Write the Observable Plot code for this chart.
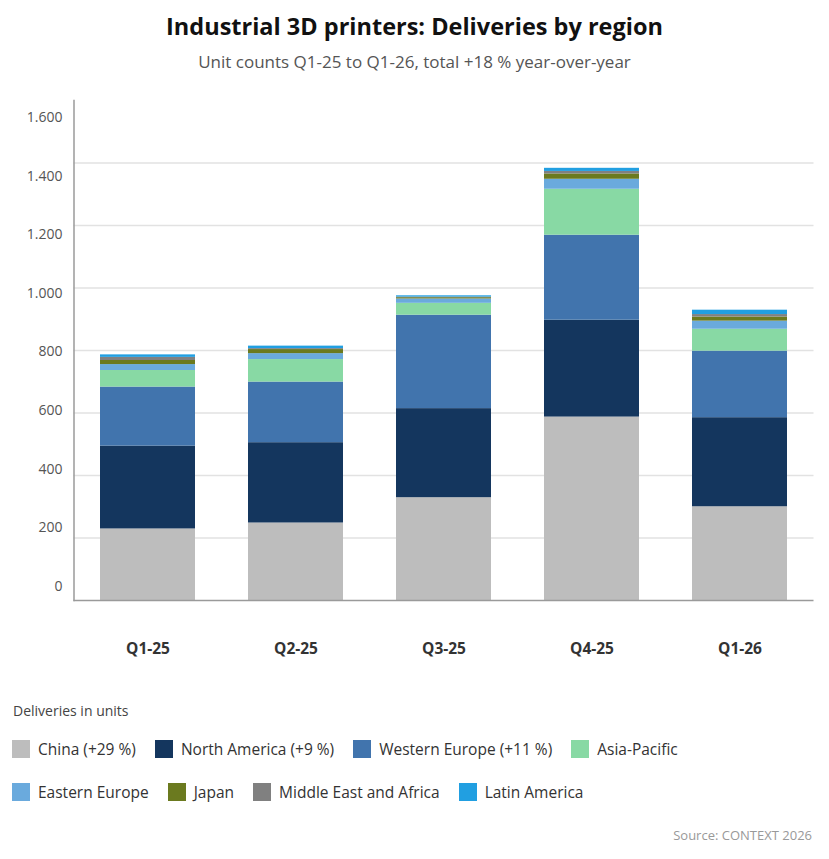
<!DOCTYPE html>
<html>
<head>
<meta charset="utf-8">
<script src="https://cdn.jsdelivr.net/npm/d3@7"></script>
<script src="https://cdn.jsdelivr.net/npm/@observablehq/plot@0.6"></script>
<style>
  body { margin: 0; background: #fff; font-family: "Open Sans", sans-serif; }
  #wrap { position: relative; width: 829px; height: 859px; overflow: hidden; }
  #title { position: absolute; top: 10px; left: 0; width: 829px; text-align: center; font-size: 23.5px; line-height: 32px; font-weight: 700; color: #111; }
  #subtitle { position: absolute; top: 50px; left: 0; width: 829px; text-align: center; font-size: 17px; line-height: 24px; color: #555; }
  #chart, #ylabels { position: absolute; top: 80px; left: 0; }
  #ylabels { pointer-events: none; }
  #legtitle { position: absolute; top: 701px; left: 13px; font-size: 14px; line-height: 20px; color: #444; }
  .legrow { position: absolute; left: 12px; display: flex; align-items: center; column-gap: 19px; font-size: 15.5px; color: #333; white-space: nowrap; }
  .item { display: flex; align-items: center; }
  .sw { width: 18px; height: 18px; margin-right: 8px; }
  #source { position: absolute; top: 825px; right: 17px; font-size: 13px; line-height: 20px; color: #999; }
</style>
</head>
<body>
<div id="wrap">
  <div id="title">Industrial 3D printers: Deliveries by region</div>
  <div id="subtitle">Unit counts Q1-25 to Q1-26, total +18 % year-over-year</div>
  <div id="chart"></div>
  <div id="ylabels"></div>
  <div id="legtitle">Deliveries in units</div>
  <div class="legrow" id="row1" style="top:738px"></div>
  <div class="legrow" id="row2" style="top:781px"></div>
  <div id="source">Source: CONTEXT 2026</div>
</div>
<script>
// ---- data ----
const quarters = ["Q1-25", "Q2-25", "Q3-25", "Q4-25", "Q1-26"];
const regions = ["China (+29 %)", "North America (+9 %)", "Western Europe (+11 %)", "Asia-Pacific",
                 "Eastern Europe", "Japan", "Middle East and Africa", "Latin America"];
const colors = ["#bdbdbd", "#14365e", "#4174ad", "#88d9a4", "#6aaadd", "#6b7a1f", "#808080", "#219fe1"];
const china         = [229, 248, 329, 587, 300];
const northAmerica  = [265, 257, 285, 310, 285];
const westernEurope = [189, 194, 299, 272, 213];
const asiaPacific   = [53, 72, 38, 147, 70];
const easternEurope = [19, 19, 14, 32, 26];
const japan         = [13, 13, 4, 17, 13];
const middleEast    = [10, 3, 2, 8, 8];
const latinAmerica  = [8, 8, 4, 10, 14];
const yTicks = [0, 200, 400, 600, 800, 1000, 1200, 1400, 1600];
const gridTicks = [200, 400, 600, 800, 1000, 1200, 1400];

const series = [china, northAmerica, westernEurope, asiaPacific, easternEurope, japan, middleEast, latinAmerica];
const data = regions.flatMap((r, i) => quarters.map((q, j) => ({quarter: q, region: r, value: series[i][j]})));

const de = d3.formatLocale({decimal: ",", thousands: ".", grouping: [3], currency: ["", " €"]});
const fmt = de.format(",");
const font = {fontFamily: "'Open Sans', sans-serif", background: "transparent"};

const chart = Plot.plot({
  width: 829, height: 590,
  marginTop: 20, marginBottom: 70, marginLeft: 73.5, marginRight: 15.5,
  style: font,
  x: {domain: quarters, paddingInner: 0.358, paddingOuter: 0.179, label: null},
  y: {domain: [0, 1600], axis: null, label: null},
  color: {domain: regions, range: colors},
  marks: [
    Plot.gridY(gridTicks, {stroke: "#e2e2e2", strokeOpacity: 1, strokeWidth: 1.5}),
    Plot.barY(data, {x: "quarter", y: "value", fill: "region"}),
    Plot.frame({anchor: "left", stroke: "#9a9a9a", strokeWidth: 1.5}),
    Plot.ruleY([0], {stroke: "#9a9a9a", strokeWidth: 1.5}),
    Plot.axisX({tickSize: 0, tickPadding: 42, fontSize: 15.5, fontWeight: "bold", fill: "#333", label: null})
  ]
});
document.getElementById("chart").appendChild(chart);

const ylab = Plot.plot({
  width: 829, height: 590,
  marginTop: 37, marginBottom: 84, marginLeft: 73, marginRight: 15.5,
  style: font,
  x: {axis: null},
  y: {domain: [0, 1600], label: null},
  marks: [
    Plot.axisY(yTicks, {tickSize: 0, tickPadding: 11, tickFormat: fmt, fontSize: 14, fill: "#555", label: null})
  ]
});
document.getElementById("ylabels").appendChild(ylab);

// ---- legend ----
function addItems(rowId, idxs) {
  const row = document.getElementById(rowId);
  for (const i of idxs) {
    const it = document.createElement("div");
    it.className = "item";
    const sw = document.createElement("div");
    sw.className = "sw";
    sw.style.background = colors[i];
    const tx = document.createElement("span");
    tx.textContent = regions[i];
    it.appendChild(sw); it.appendChild(tx);
    row.appendChild(it);
  }
}
addItems("row1", [0, 1, 2, 3]);
addItems("row2", [4, 5, 6, 7]);
</script>
</body>
</html>
